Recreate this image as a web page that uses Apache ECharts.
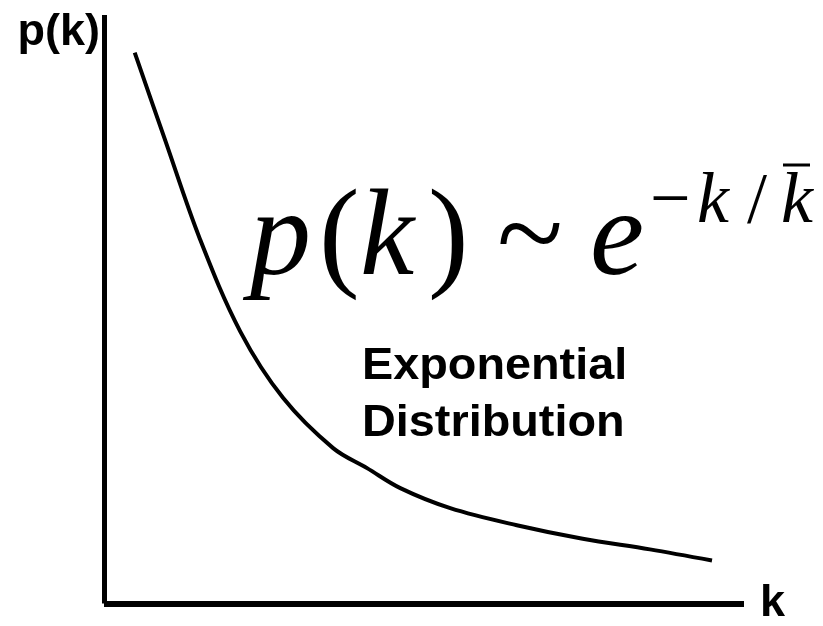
<!DOCTYPE html>
<html>
<head>
<meta charset="utf-8">
<title>Exponential Distribution</title>
<script src="https://cdn.jsdelivr.net/npm/echarts@6/dist/echarts.min.js"></script>
<style>
  html, body { margin: 0; padding: 0; background: #fff; }
  #chart { width: 823px; height: 626px; }
</style>
</head>
<body>
<div id="chart"></div>
<script>
// values (arbitrary units, axes 0..100)
const kValues = [4.8, 9.5, 15.0, 21.3, 28.0, 35.8, 41.1, 46.3, 54.1, 64.5, 74.8, 85.3, 95.0];
const pValues = [93.6, 78.9, 61.9, 46.2, 34.9, 26.4, 23.0, 19.6, 16.2, 13.3, 11.0, 9.2, 7.3];

const xLabel = "k";
const yLabel = "p(k)";
const noteLines = ["Exponential", "Distribution"];

const serif = "'Liberation Serif', 'Times New Roman', serif";
const sans = "'Liberation Sans', Arial, Helvetica, sans-serif";

// formula p(k) ~ e^(-k / k̄), drawn piece by piece
function piece(text, x, baseline, size, italic) {
  return {
    type: "text",
    x: x,
    y: baseline - 0.3375 * size,
    style: {
      text: text,
      fill: "#000",
      font: (italic ? "italic " : "") + size + "px " + serif,
      align: "left",
      verticalAlign: "middle",
    },
  };
}

const chart = echarts.init(document.getElementById("chart"));

const option = {
  animation: false,
  backgroundColor: "#fff",
  grid: { left: 104, right: 79, top: 15, bottom: 20, containLabel: false },
  xAxis: {
    type: "value",
    min: 0,
    max: 100,
    name: xLabel,
    nameLocation: "end",
    nameGap: 16,
    nameTextStyle: {
      fontFamily: sans,
      fontWeight: "bold",
      fontSize: 45,
      color: "#000",
      align: "left",
      verticalAlign: "middle",
    },
    axisLine: { show: true, lineStyle: { color: "#000", width: 6, cap: "butt" } },
    axisTick: { show: false },
    axisLabel: { show: false },
    splitLine: { show: false },
  },
  yAxis: {
    type: "value",
    min: 0,
    max: 100,
    name: yLabel,
    nameLocation: "end",
    nameGap: -18,
    nameTextStyle: {
      fontFamily: sans,
      fontWeight: "bold",
      fontSize: 45,
      color: "#000",
      align: "right",
      verticalAlign: "middle",
      padding: [0, 4, 0, 0],
    },
    axisLine: { show: true, onZero: false, lineStyle: { color: "#000", width: 5, cap: "butt" } },
    axisTick: { show: false },
    axisLabel: { show: false },
    splitLine: { show: false },
  },
  series: [
    {
      type: "line",
      data: kValues.map((k, i) => [k, pValues[i]]),
      smooth: 0.35,
      showSymbol: false,
      lineStyle: { color: "#000", width: 4, cap: "butt" },
    },
  ],
  graphic: [
    piece("p", 250, 283, 122, true),
    piece("(", 319, 283, 122, false),
    piece("k", 360, 283, 122, true),
    piece(")", 428, 283, 122, false),
    piece("~", 497, 283, 122, false),
    piece("e", 590, 283, 122, true),
    piece("\u2212", 650, 227, 72, false),
    piece("k", 697, 227, 72, true),
    piece("/", 747, 227, 72, false),
    piece("k", 781, 227, 72, true),
    {
      type: "line",
      shape: { x1: 783, y1: 165, x2: 810, y2: 165 },
      style: { stroke: "#000", lineWidth: 3 },
    },
    {
      type: "text",
      x: 362,
      y: 338,
      scaleX: 1.04,
      style: {
        text: noteLines.join("\n"),
        fill: "#000",
        font: "bold 45px " + sans,
        lineHeight: 57,
        align: "left",
        verticalAlign: "top",
      },
    },
  ],
};

chart.setOption(option);
</script>
</body>
</html>
